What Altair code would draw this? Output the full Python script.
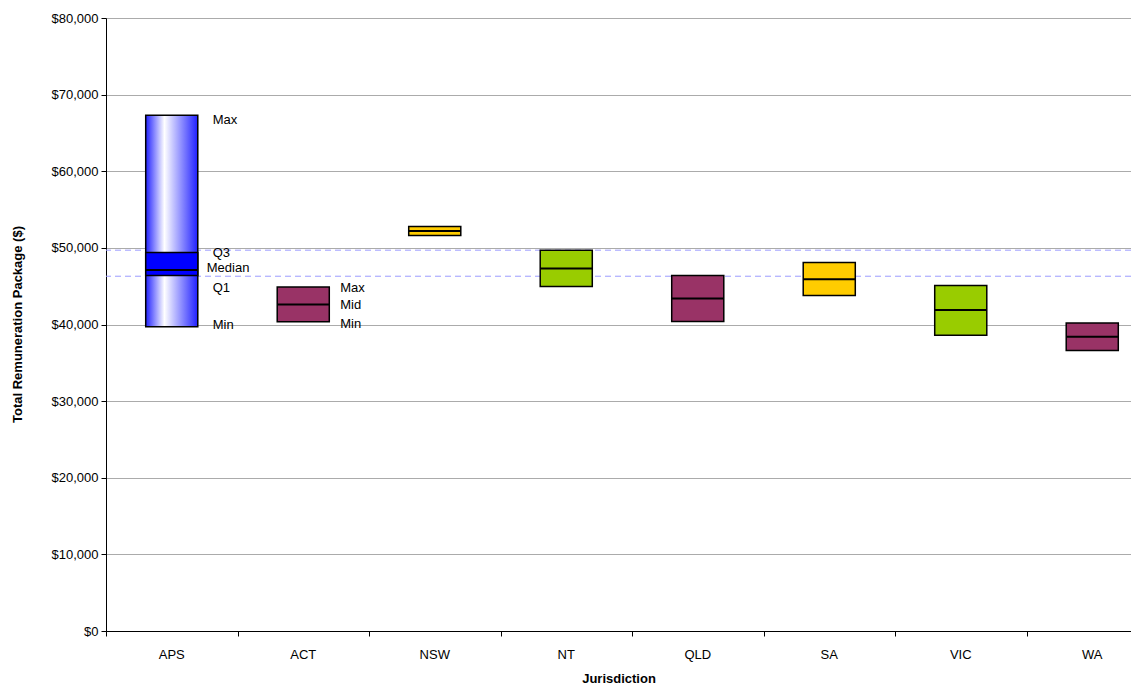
import altair as alt
import pandas as pd

# ---- data ----
jurisdictions = ["APS", "ACT", "NSW", "NT", "QLD", "SA", "VIC", "WA"]
box_low = [39700, 40350, 51600, 44950, 40400, 43800, 38600, 36600]
box_mid = [47100, 42600, 52200, 47300, 43400, 45900, 41900, 38400]
box_high = [67300, 44900, 52800, 49700, 46400, 48100, 45100, 40200]
box_fill = ["gradient", "#993366", "#FFCC00", "#99CC00", "#993366", "#FFCC00", "#99CC00", "#993366"]
aps_q1 = 46400
aps_q3 = 49400
ref_lines = [49700, 46300]

aps_labels = ["Max", "Q3", "Median", "Q1", "Min"]
aps_label_values = [box_high[0], aps_q3, box_mid[0], aps_q1, box_low[0]]
act_labels = ["Max", "Mid", "Min"]
act_label_values = [box_high[1], box_mid[1], box_low[1]]

# ---- tables ----
df = pd.DataFrame({
    "j": jurisdictions,
    "low": box_low,
    "mid": box_mid,
    "high": box_high,
    "fill": box_fill,
})
df["pos"] = [i + 0.5 for i in range(len(jurisdictions))]
aps_box = pd.DataFrame({"pos": [0.5], "q1": [aps_q1], "q3": [aps_q3]})
refs = pd.DataFrame({"v": ref_lines})

FONT = "Liberation Sans"
HALF = 0.198
XMAX = 1025 / 131.5

xs = alt.Scale(domain=[0, XMAX], nice=False, zero=False)
ys = alt.Scale(domain=[0, 80000], nice=False, zero=True)

x_axis = alt.Axis(values=list(range(0, 8)), labels=False, grid=False, ticks=True,
                  tickSize=5, tickColor="black", domainColor="black", domainWidth=1,
                  title="Jurisdiction", titleFont=FONT, titleFontSize=13,
                  titleFontWeight="bold", titleColor="black", titleBaseline="middle",
                  titleY=47)
y_axis = alt.Axis(values=list(range(0, 80001, 10000)), format="$,.0f", grid=True,
                  gridColor="#ababab", gridWidth=1, tickSize=5, tickColor="black",
                  domainColor="black", domainWidth=1, labelFont=FONT, labelFontSize=13,
                  labelColor="black", labelPadding=3,
                  title="Total Remuneration Package ($)", titleFont=FONT, titleFontSize=13,
                  titleFontWeight="bold", titleColor="black", titleAngle=270,
                  titleBaseline="middle", titleAlign="center", titleX=-89, titleY=306)

base = alt.Chart(df).transform_calculate(
    x1=f"datum.pos - {HALF}", x2=f"datum.pos + {HALF}"
)

# reference dashed lines
dashed = alt.Chart(refs).mark_rule(color="#9c9cff", strokeDash=[6, 4], strokeWidth=1).encode(
    y=alt.Y("v:Q", scale=ys, axis=y_axis),
)

# coloured boxes
boxes = base.transform_filter("datum.fill != 'gradient'").mark_rect(
    stroke="black", strokeWidth=1.5
).encode(
    x=alt.X("x1:Q", scale=xs, axis=x_axis),
    x2="x2:Q",
    y=alt.Y("low:Q", scale=ys),
    y2="high:Q",
    fill=alt.Fill("fill:N", scale=None),
)

grad = alt.Gradient(
    gradient="linear",
    stops=[alt.GradientStop(color="#2020ff", offset=0),
           alt.GradientStop(color="#ffffff", offset=0.36),
           alt.GradientStop(color="#2020ff", offset=1)],
    x1=0, x2=1, y1=0, y2=0,
)
aps = base.transform_filter("datum.fill == 'gradient'").mark_rect(
    stroke="black", strokeWidth=1.5, fill=grad
).encode(
    x=alt.X("x1:Q", scale=xs),
    x2="x2:Q",
    y=alt.Y("low:Q", scale=ys),
    y2="high:Q",
)

aps_inner = alt.Chart(aps_box).transform_calculate(
    x1=f"datum.pos - {HALF}", x2=f"datum.pos + {HALF}"
).mark_rect(stroke="black", strokeWidth=1.5, fill="#0000ff").encode(
    x=alt.X("x1:Q", scale=xs),
    x2="x2:Q",
    y=alt.Y("q1:Q", scale=ys),
    y2="q3:Q",
)

mids = base.mark_rule(color="black", strokeWidth=2).encode(
    x=alt.X("x1:Q", scale=xs),
    x2="x2:Q",
    y=alt.Y("mid:Q", scale=ys),
)

cat_labels = base.mark_text(font=FONT, fontSize=13, color="black", dy=24,
                            baseline="middle").encode(
    x=alt.X("pos:Q", scale=xs),
    y=alt.datum(0),
    text="j:N",
)

layers = [dashed, aps, aps_inner, boxes, mids, cat_labels]

aps_dx = [41, 41, 35, 41, 41]
aps_dy = [5, 1, -2, 13, -2]
for lab, val, dx, dy in zip(aps_labels, aps_label_values, aps_dx, aps_dy):
    t = alt.Chart(pd.DataFrame({"pos": [0.5], "v": [val], "t": [lab]})).mark_text(
        font=FONT, fontSize=13, color="black", align="left", baseline="middle", dx=dx, dy=dy
    ).encode(x=alt.X("pos:Q", scale=xs), y=alt.Y("v:Q", scale=ys), text="t:N")
    layers.append(t)

act_dy = [1, 0, 2]
for lab, val, dy in zip(act_labels, act_label_values, act_dy):
    t = alt.Chart(pd.DataFrame({"pos": [1.5], "v": [val], "t": [lab]})).mark_text(
        font=FONT, fontSize=13, color="black", align="left", baseline="middle", dx=37, dy=dy
    ).encode(x=alt.X("pos:Q", scale=xs), y=alt.Y("v:Q", scale=ys), text="t:N")
    layers.append(t)

chart = alt.layer(*layers).properties(
    width=1025, height=613,
    padding={"left": 98, "top": 10, "right": 0, "bottom": 58},
    autosize="none",
    background="white",
).configure_view(stroke=None).configure(font=FONT)

chart.save("out.html", embed_options={"renderer": "svg", "actions": False})
